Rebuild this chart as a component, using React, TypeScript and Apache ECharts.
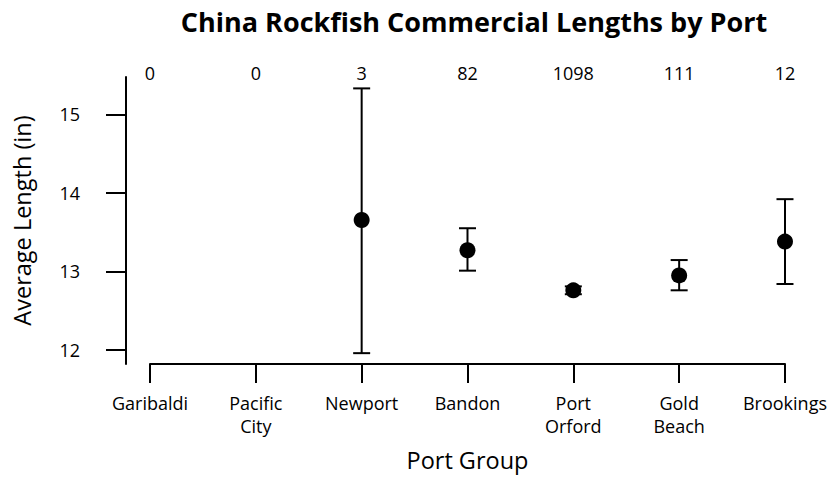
import React, { useEffect, useRef } from "react";
import * as echarts from "echarts";

const ports = ["Garibaldi", "Pacific\nCity", "Newport", "Bandon", "Port\nOrford", "Gold\nBeach", "Brookings"];
const counts = ["0", "0", "3", "82", "1098", "111", "12"];
const means: (number | null)[] = [null, null, 13.655, 13.27, 12.76, 12.95, 13.38];
const lowers: (number | null)[] = [null, null, 11.96, 13.01, 12.71, 12.76, 12.84];
const uppers: (number | null)[] = [null, null, 15.33, 13.55, 12.81, 13.145, 13.92];
const yTicks = [12, 13, 14, 15];

const FONT = "Open Sans";

export default function App() {
  const ref = useRef<HTMLDivElement>(null);
  useEffect(() => {
    if (!ref.current) return;
    const chart = echarts.init(ref.current, null, { renderer: "svg" });
    const errData: number[][] = [];
    const pts: number[][] = [];
    ports.forEach((_, i) => {
      const m = means[i], lo = lowers[i], hi = uppers[i];
      if (m != null) pts.push([i, m]);
      if (lo != null && hi != null) errData.push([i, lo, hi]);
    });
    chart.setOption({
      animation: false,
      backgroundColor: "#fff",
      textStyle: { fontFamily: FONT, color: "#000" },
      title: {
        text: "China Rockfish Commercial Lengths by Port",
        left: 469,
        textAlign: "center",
        top: 3,
        textStyle: { fontFamily: FONT, fontWeight: "bold", fontSize: 27, color: "#000" },
      },
      grid: { left: 150, right: 42, top: 77, bottom: 116, containLabel: false },
      xAxis: [
        {
          type: "category",
          data: ports,
          boundaryGap: false,
          position: "bottom",
          axisLine: { show: true, lineStyle: { color: "#000", width: 2 } },
          axisTick: { show: true, length: 19, inside: false, alignWithLabel: true, lineStyle: { color: "#000", width: 2 } },
          axisLabel: { show: true, interval: 0, margin: 27, fontSize: 18, lineHeight: 23, color: "#000", fontFamily: FONT },
          splitLine: { show: false },
          name: "Port Group",
          nameLocation: "middle",
          nameGap: 84,
          nameTextStyle: { fontSize: 23.5, color: "#000", fontFamily: FONT },
        },
        {
          type: "category",
          data: ports,
          boundaryGap: false,
          position: "top",
          axisLine: { show: false },
          axisTick: { show: false },
          axisLabel: {
            show: true,
            interval: 0,
            margin: 4,
            verticalAlign: "middle",
            fontSize: 18,
            color: "#000",
            fontFamily: FONT,
            formatter: (_v: string, i: number) => counts[i],
          },
          splitLine: { show: false },
        },
      ],
      yAxis: {
        type: "value",
        min: 11.822,
        max: 15.475,
        offset: 24,
        axisLine: { show: true, lineStyle: { color: "#000", width: 2 } },
        axisTick: { show: true, length: 20, inside: false, customValues: yTicks, lineStyle: { color: "#000", width: 2 } },
        axisLabel: { show: true, margin: 46, fontSize: 18, color: "#000", fontFamily: FONT, customValues: yTicks },
        splitLine: { show: false },
        name: "Average Length (in)",
        nameLocation: "middle",
        nameGap: 92,
        nameTextStyle: { fontSize: 23.5, color: "#000", fontFamily: FONT },
      },
      series: [
        {
          type: "custom",
          data: errData,
          xAxisIndex: 0,
          renderItem: (params: any, api: any) => {
            const x = api.value(0);
            const pHi = api.coord([x, api.value(2)]);
            const pLo = api.coord([x, api.value(1)]);
            const hw = 8.5;
            const style = { stroke: "#000", lineWidth: 2 };
            return {
              type: "group",
              children: [
                { type: "line", shape: { x1: pHi[0], y1: pHi[1], x2: pLo[0], y2: pLo[1] }, style },
                { type: "line", shape: { x1: pHi[0] - hw, y1: pHi[1], x2: pHi[0] + hw, y2: pHi[1] }, style },
                { type: "line", shape: { x1: pLo[0] - hw, y1: pLo[1], x2: pLo[0] + hw, y2: pLo[1] }, style },
              ],
            };
          },
          z: 2,
        },
        {
          type: "scatter",
          data: pts,
          xAxisIndex: 0,
          symbol: "circle",
          symbolSize: 16,
          itemStyle: { color: "#000", opacity: 1 },
          z: 3,
        },
      ],
    });
    return () => chart.dispose();
  }, []);
  return <div ref={ref} style={{ position: "fixed", left: 0, top: 0, width: 830, height: 480 }} />;
}
